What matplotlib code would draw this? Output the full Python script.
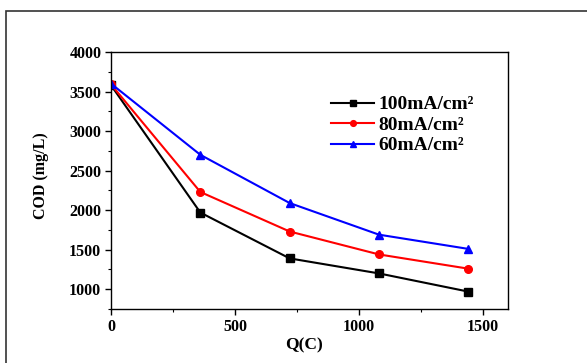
import matplotlib
matplotlib.use("Agg")
from matplotlib import pyplot as plt
from matplotlib.patches import Rectangle
from matplotlib.ticker import MultipleLocator

# data
charge = [0, 360, 720, 1080, 1440]
cod_100 = [3580, 1970, 1390, 1200, 970]
cod_80 = [3590, 2230, 1730, 1440, 1260]
cod_60 = [3600, 2700, 2090, 1690, 1510]
labels = ["100mA/cm²", "80mA/cm²", "60mA/cm²"]

plt.rcParams["font.family"] = ["Liberation Serif", "DejaVu Serif"]
plt.rcParams["font.weight"] = "bold"

fig = plt.figure(figsize=(5.87, 3.63), dpi=100)
ax = fig.add_axes([111 / 587, 1 - 309 / 363, 397 / 587, 257 / 363])

# outer frame round the picture
fig.patches.append(Rectangle((6 / 587, -0.05), 1.0, 1 - 11 / 363 + 0.05,
                             transform=fig.transFigure, fill=False,
                             edgecolor="#333333", linewidth=1.2))

ax.plot(charge, cod_100, color="black", marker="s", markersize=5.5, linewidth=1.5, label=labels[0])
ax.plot(charge, cod_80, color="red", marker="o", markersize=5.5, linewidth=1.5, label=labels[1])
ax.plot(charge, cod_60, color="blue", marker="^", markersize=5.5, linewidth=1.5, label=labels[2])

ax.set_xlim(0, 1600)
ax.set_ylim(750, 4000)
ax.xaxis.set_major_locator(MultipleLocator(500))
ax.xaxis.set_minor_locator(MultipleLocator(250))
ax.yaxis.set_minor_locator(MultipleLocator(250))
ax.set_yticks([1000, 1500, 2000, 2500, 3000, 3500, 4000])
ax.tick_params(which="major", direction="out", length=4, width=1, labelsize=11.5, pad=3)
ax.tick_params(which="minor", direction="out", length=2.5, width=0.8)
for lab in ax.get_xticklabels() + ax.get_yticklabels():
    lab.set_fontweight("bold")
for sp in ax.spines.values():
    sp.set_linewidth(1.0)

ax.set_xlabel("Q(C)", fontsize=12.5, fontweight="bold")
ax.set_ylabel("COD (mg/L)", fontsize=11.5, fontweight="bold")
ax.xaxis.set_label_coords(0.485, -0.11)
ax.yaxis.set_label_coords(-0.155, 0.52)

ax.legend(loc="upper left", bbox_to_anchor=(0.535, 0.86), frameon=False,
          prop={"size": 14, "weight": "bold"}, handlelength=2.2, markerscale=0.75,
          handletextpad=0.25, labelspacing=0.15, borderaxespad=0)

fig.savefig("out.png", dpi=100)
